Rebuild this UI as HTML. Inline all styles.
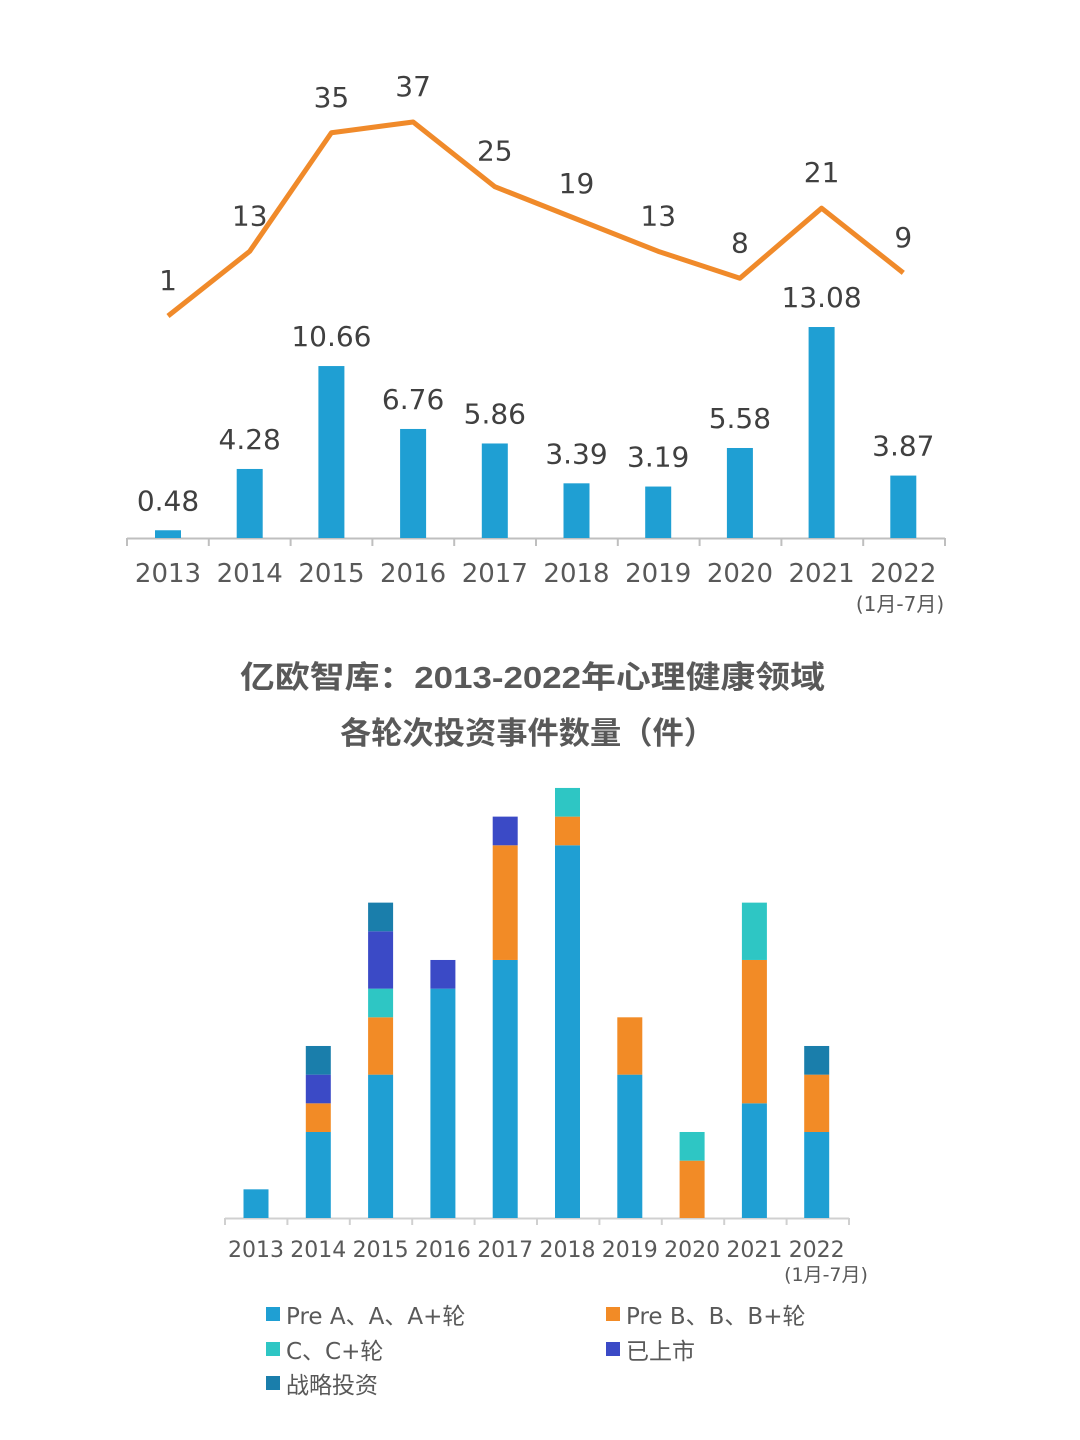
<!DOCTYPE html>
<html><head><meta charset="utf-8"><style>
body{margin:0;background:#fff;}
svg{display:block;font-family:"DejaVu Sans","Noto Sans CJK SC",sans-serif;}
</style></head><body>
<svg width="1080" height="1440" viewBox="0 0 1080 1440">
<g id="topchart"></g>
<g id="botchart"></g>
<text x="240" y="688" textLength="585" lengthAdjust="spacingAndGlyphs" font-size="31" font-weight="bold" fill="#595959" style="font-family:'Liberation Sans','Noto Sans CJK SC',sans-serif">亿欧智库：2013-2022年心理健康领域</text>
<text x="340" y="744" textLength="375" lengthAdjust="spacingAndGlyphs" font-size="31" font-weight="bold" fill="#595959" style="font-family:'Liberation Sans','Noto Sans CJK SC',sans-serif">各轮次投资事件数量（件）</text>
<g id="legend"></g>
</svg>
<script>
const years=["2013","2014","2015","2016","2017","2018","2019","2020","2021","2022"];
const amounts=[0.48,4.28,10.66,6.76,5.86,3.39,3.19,5.58,13.08,3.87];
const counts=[1,13,35,37,25,19,13,8,21,9];
const seriesNames=["Pre A、A、A+轮","Pre B、B、B+轮","C、C+轮","已上市","战略投资"];
const sA=[1,3,5,8,9,13,5,0,4,3];
const sB=[0,1,2,0,4,1,2,2,5,2];
const sC=[0,0,1,0,0,1,0,1,2,0];
const sL=[0,1,2,1,1,0,0,0,0,0];
const sS=[0,1,1,0,0,0,0,0,0,1];
const colors=["#1f9fd3","#f28b26","#2ec6c4","#3b4ac6","#1a7eab"];
const NS="http://www.w3.org/2000/svg";
function mk(p,t,a,txt){const e=document.createElementNS(NS,t);for(const k in a)e.setAttribute(k,a[k]);if(txt!==undefined)e.textContent=txt;p.appendChild(e);return e;}
const topG=document.getElementById('topchart');
const tx=i=>168+i*81.7, ty=v=>538-v*16.13, ly=v=>321.4-v*5.39;
let ax=mk(topG,'line',{x1:127,y1:538.5,x2:945,y2:538.5,stroke:'#bfbfbf','stroke-width':2});


for(let i=0;i<=10;i++){let t=mk(topG,'line',{x1:127+i*81.8,y1:538,x2:127+i*81.8,y2:546,stroke:'#bfbfbf','stroke-width':2});

}
amounts.forEach((v,i)=>{
 let r=mk(topG,'rect',{x:tx(i)-13,y:ty(v),width:26,height:538-ty(v),fill:'#1f9fd3'});
 
 
 let l=mk(topG,'text',{x:tx(i),y:ty(v)-20,'text-anchor':'middle','font-size':28,fill:'#404040'},v.toFixed(2));
 
 
 let y=mk(topG,'text',{x:tx(i),y:582,'text-anchor':'middle','font-size':26,fill:'#595959'},years[i]);
 
 
});
let sub=mk(topG,'text',{x:900,y:611,'text-anchor':'middle','font-size':20,fill:'#595959'},'(1月-7月)');


let pl=mk(topG,'polyline',{points:counts.map((v,i)=>tx(i)+','+ly(v)).join(' '),fill:'none',stroke:'#f08a2a','stroke-width':5,'stroke-linejoin':'round'});


counts.forEach((v,i)=>{let l=mk(topG,'text',{x:tx(i),y:ly(v)-26,'text-anchor':'middle','font-size':28,fill:'#404040'},String(v));
 
 });
const botG=document.getElementById('botchart');
const bx=i=>256+i*62.3, unit=28.67, base=1218;
let ax2=mk(botG,'line',{x1:225,y1:base+0.5,x2:849,y2:base+0.5,stroke:'#d0d0d0','stroke-width':2});


for(let i=0;i<=10;i++){let t=mk(botG,'line',{x1:225+i*62.4,y1:base,x2:225+i*62.4,y2:base+7,stroke:'#d0d0d0','stroke-width':2});

}
const series=[sA,sB,sC,sL,sS];
years.forEach((yr,i)=>{
 let acc=0;
 series.forEach((s,k)=>{ if(s[i]>0){
  let r=mk(botG,'rect',{x:bx(i)-12.5,y:base-(acc+s[i])*unit,width:25,height:s[i]*unit,fill:colors[k]});
  
  
  acc+=s[i];}});
 let t=mk(botG,'text',{x:bx(i),y:1257,'text-anchor':'middle','font-size':22,fill:'#595959'},yr);
 
 
});
let sub2=mk(botG,'text',{x:826,y:1281,'text-anchor':'middle','font-size':19,fill:'#595959'},'(1月-7月)');


const lg=document.getElementById('legend');
const lpos=[[266,1315],[606,1315],[266,1350],[606,1350],[266,1384]];
seriesNames.forEach((n,k)=>{
 const [x,y]=lpos[k];
 let g=mk(lg,'g',{});
 
 
 mk(g,'rect',{x:x,y:y-8,width:14,height:14,fill:colors[k]});
 mk(g,'text',{x:x+20,y:y+9,'font-size':23,fill:'#595959'},n);
});
</script>
</body></html>
